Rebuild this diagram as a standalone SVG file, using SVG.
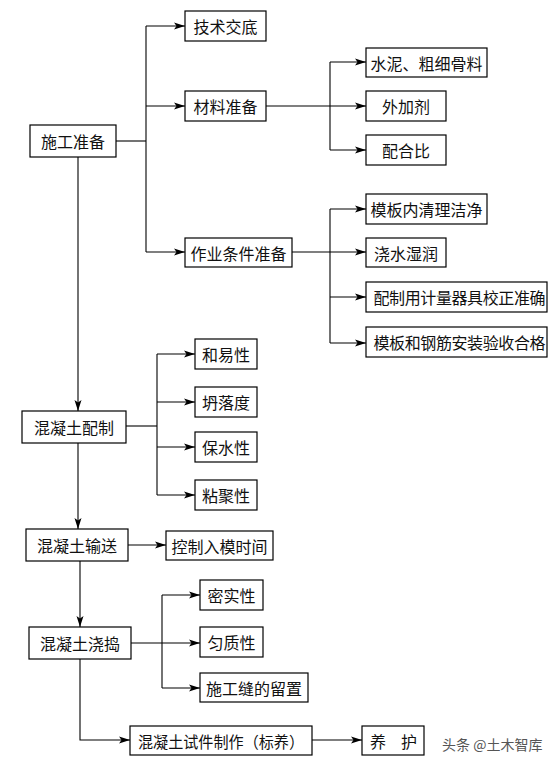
<svg xmlns="http://www.w3.org/2000/svg" width="556" height="765" viewBox="0 0 556 765">
<style>
rect.n{fill:#fff;stroke:#000;stroke-width:1.2}
text{font-family:"Noto Sans CJK SC","Noto Sans",sans-serif;font-size:16px;fill:#111;text-anchor:middle;dominant-baseline:central}
.c line,.c polyline{stroke:#000;stroke-width:1.1;fill:none}
.wm{font-size:14px;fill:#555;text-anchor:start}
</style>
<defs>
<marker id="a" markerUnits="userSpaceOnUse" markerWidth="12" markerHeight="8" refX="11" refY="4" orient="auto">
<path d="M0,0.5 L11,4 L0,7.5 L2.5,4 z" fill="#000"/>
</marker>
</defs>
<rect width="556" height="765" fill="#fff"/>
<g class="c">
<line x1="116" y1="141" x2="146" y2="141"/>
<line x1="146" y1="26" x2="146" y2="252"/>
<line x1="146" y1="26" x2="185" y2="26" marker-end="url(#a)"/>
<line x1="146" y1="106" x2="185" y2="106" marker-end="url(#a)"/>
<line x1="146" y1="252" x2="185" y2="252" marker-end="url(#a)"/>
<line x1="266" y1="106" x2="366" y2="106" marker-end="url(#a)"/>
<line x1="330" y1="62" x2="330" y2="150"/>
<line x1="330" y1="62" x2="366" y2="62" marker-end="url(#a)"/>
<line x1="330" y1="150" x2="366" y2="150" marker-end="url(#a)"/>
<line x1="292" y1="252" x2="366" y2="252" marker-end="url(#a)"/>
<line x1="330" y1="209" x2="330" y2="343"/>
<line x1="330" y1="209" x2="366" y2="209" marker-end="url(#a)"/>
<line x1="330" y1="297" x2="366" y2="297" marker-end="url(#a)"/>
<line x1="330" y1="343" x2="366" y2="343" marker-end="url(#a)"/>
<line x1="78" y1="157" x2="78" y2="411" marker-end="url(#a)"/>
<line x1="126" y1="426" x2="157" y2="426"/>
<line x1="157" y1="354" x2="157" y2="495"/>
<line x1="157" y1="354" x2="195" y2="354" marker-end="url(#a)"/>
<line x1="157" y1="402" x2="195" y2="402" marker-end="url(#a)"/>
<line x1="157" y1="447" x2="195" y2="447" marker-end="url(#a)"/>
<line x1="157" y1="495" x2="195" y2="495" marker-end="url(#a)"/>
<line x1="78" y1="443" x2="78" y2="529" marker-end="url(#a)"/>
<line x1="128" y1="545" x2="166" y2="545" marker-end="url(#a)"/>
<line x1="80" y1="561" x2="80" y2="627" marker-end="url(#a)"/>
<line x1="131" y1="643" x2="200" y2="643" marker-end="url(#a)"/>
<line x1="162" y1="595" x2="162" y2="688"/>
<line x1="162" y1="595" x2="200" y2="595" marker-end="url(#a)"/>
<line x1="162" y1="688" x2="200" y2="688" marker-end="url(#a)"/>
<polyline points="80,659 80,740 130,740" marker-end="url(#a)"/>
<line x1="312" y1="740" x2="362" y2="740" marker-end="url(#a)"/>
</g>
<g id="n1"><rect class="n" x="30" y="125" width="86" height="32"/><text x="73" y="141">施工准备</text></g>
<g id="n2"><rect class="n" x="185" y="11" width="81" height="30"/><text x="225.5" y="26">技术交底</text></g>
<g id="n3"><rect class="n" x="185" y="91" width="81" height="30"/><text x="225.5" y="106">材料准备</text></g>
<g id="n4"><rect class="n" x="185" y="238" width="107" height="29"/><text x="238.5" y="252.5">作业条件准备</text></g>
<g id="n5"><rect class="n" x="366" y="48" width="121" height="29"/><text x="426.5" y="62.5">水泥、粗细骨料</text></g>
<g id="n6"><rect class="n" x="366" y="91" width="80" height="30"/><text x="406" y="106">外加剂</text></g>
<g id="n7"><rect class="n" x="366" y="135" width="80" height="30"/><text x="406" y="150">配合比</text></g>
<g id="n8"><rect class="n" x="366" y="194" width="121" height="30"/><text x="426.5" y="209">模板内清理洁净</text></g>
<g id="n9"><rect class="n" x="366" y="238" width="80" height="29"/><text x="406" y="252.5">浇水湿润</text></g>
<g id="n10"><rect class="n" x="366" y="282" width="181" height="30"/><text x="459.5" y="297" textLength="172" lengthAdjust="spacing">配制用计量器具校正准确</text></g>
<g id="n11"><rect class="n" x="366" y="327" width="181" height="30"/><text x="459.5" y="342" textLength="172" lengthAdjust="spacing">模板和钢筋安装验收合格</text></g>
<g id="n12"><rect class="n" x="22" y="411" width="104" height="32"/><text x="74" y="427">混凝土配制</text></g>
<g id="n13"><rect class="n" x="195" y="339" width="62" height="30"/><text x="226" y="354">和易性</text></g>
<g id="n14"><rect class="n" x="195" y="387" width="62" height="30"/><text x="226" y="402">坍落度</text></g>
<g id="n15"><rect class="n" x="195" y="432" width="62" height="30"/><text x="226" y="447">保水性</text></g>
<g id="n16"><rect class="n" x="195" y="480" width="62" height="30"/><text x="226" y="495">粘聚性</text></g>
<g id="n17"><rect class="n" x="26" y="529" width="102" height="32"/><text x="77" y="545">混凝土输送</text></g>
<g id="n18"><rect class="n" x="166" y="531" width="107" height="29"/><text x="219.5" y="545.5">控制入模时间</text></g>
<g id="n19"><rect class="n" x="29" y="627" width="102" height="32"/><text x="80" y="643">混凝土浇捣</text></g>
<g id="n20"><rect class="n" x="200" y="580" width="63" height="30"/><text x="231.5" y="595">密实性</text></g>
<g id="n21"><rect class="n" x="200" y="627" width="63" height="30"/><text x="231.5" y="642">匀质性</text></g>
<g id="n22"><rect class="n" x="200" y="673" width="108" height="29"/><text x="254" y="687.5">施工缝的留置</text></g>
<g id="n23"><rect class="n" x="130" y="726" width="182" height="29"/><text x="221" y="740.5" textLength="166" lengthAdjust="spacingAndGlyphs">混凝土试件制作（标养）</text></g>
<g id="n24"><rect class="n" x="362" y="726" width="62" height="29"/><text x="378" y="740.5">养</text><text x="409" y="740.5">护</text></g>
<text class="wm" x="442" y="744">头条 @土木智库</text>
</svg>
